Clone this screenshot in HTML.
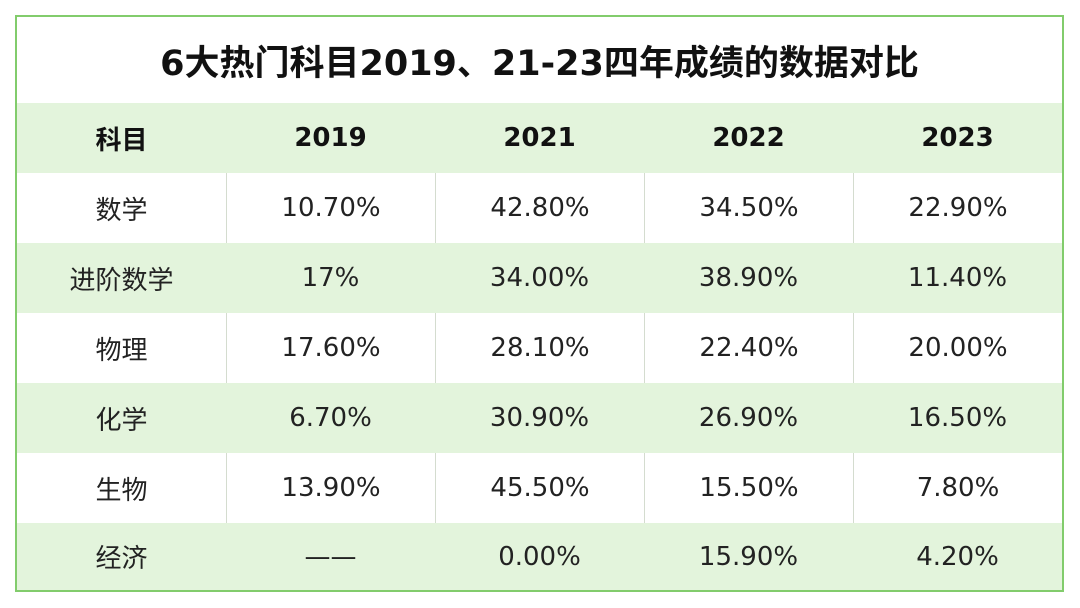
<!DOCTYPE html>
<html><head><meta charset="utf-8"><style>
body{margin:0;width:1080px;height:608px;background:#fff;font-family:"DejaVu Sans","Noto Sans CJK SC",sans-serif;overflow:hidden}
#t{position:absolute;left:15px;top:15px;width:1049px;height:577px;border:2px solid #82cc6c;box-sizing:border-box}
.title{position:absolute;left:0;top:0;width:1045px;height:86px;border-bottom:2px solid #82cc6c;display:flex;align-items:center;justify-content:center;font-size:35px;font-weight:bold;color:#111}
.row{position:absolute;left:0;width:1045px;height:70px;display:flex}
.row.g{background:#e3f4dc}
.c{width:209px;height:70px;display:flex;align-items:center;justify-content:center;font-size:26px;color:#222;box-sizing:border-box}
.row:not(.g) .c+.c{border-left:1.5px solid #d4dccf}
.h .c{font-weight:bold;color:#111}
</style></head><body>
<div id="t">
<div class="title">6大热门科目2019、21-23四年成绩的数据对比</div>
<div class="row g h" style="top:86px"><div class="c">科目</div><div class="c">2019</div><div class="c">2021</div><div class="c">2022</div><div class="c">2023</div></div>
<div class="row" style="top:156px"><div class="c">数学</div><div class="c">10.70%</div><div class="c">42.80%</div><div class="c">34.50%</div><div class="c">22.90%</div></div>
<div class="row g" style="top:226px"><div class="c">进阶数学</div><div class="c">17%</div><div class="c">34.00%</div><div class="c">38.90%</div><div class="c">11.40%</div></div>
<div class="row" style="top:296px"><div class="c">物理</div><div class="c">17.60%</div><div class="c">28.10%</div><div class="c">22.40%</div><div class="c">20.00%</div></div>
<div class="row g" style="top:366px"><div class="c">化学</div><div class="c">6.70%</div><div class="c">30.90%</div><div class="c">26.90%</div><div class="c">16.50%</div></div>
<div class="row" style="top:436px"><div class="c">生物</div><div class="c">13.90%</div><div class="c">45.50%</div><div class="c">15.50%</div><div class="c">7.80%</div></div>
<div class="row g" style="top:506px;height:67px"><div class="c" style="height:67px">经济</div><div class="c" style="height:67px">——</div><div class="c" style="height:67px">0.00%</div><div class="c" style="height:67px">15.90%</div><div class="c" style="height:67px">4.20%</div></div>
</div>
</body></html>
